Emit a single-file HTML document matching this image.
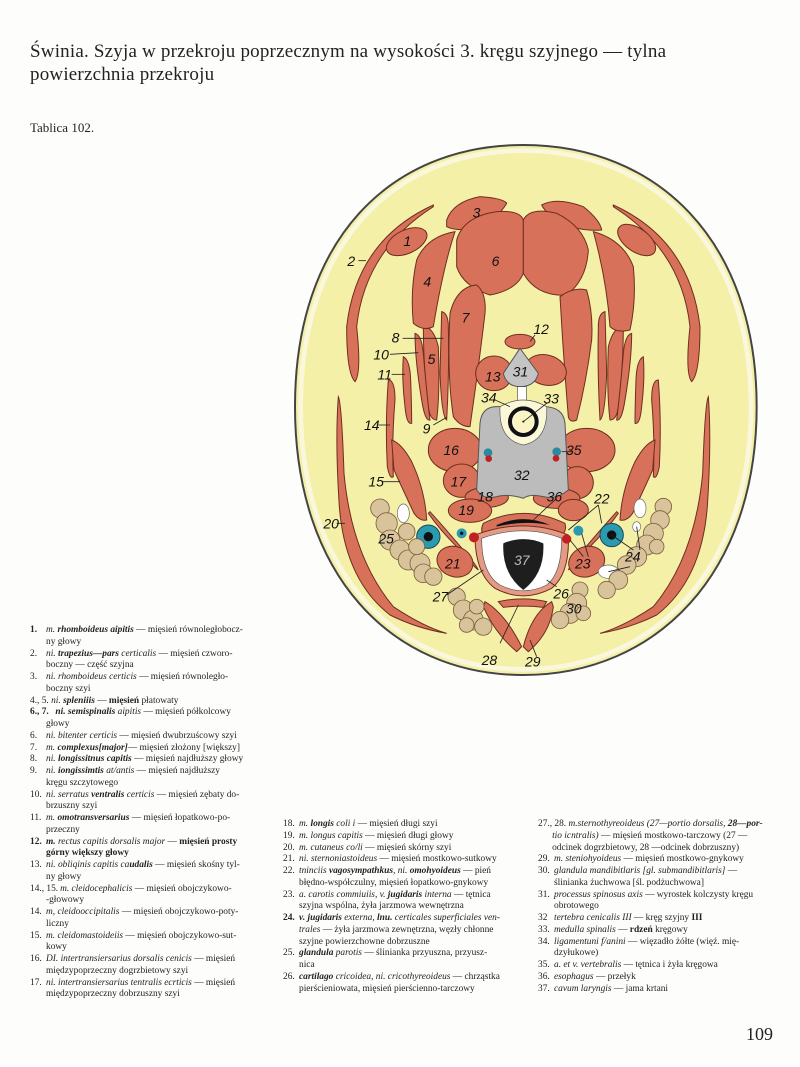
<!DOCTYPE html>
<html><head><meta charset="utf-8">
<style>
body{margin:0;background:#fff;}
#pg{position:relative;width:800px;height:1067px;overflow:hidden;background:#fdfdfb;font-family:"Liberation Serif",serif;color:#222;}
.t{position:absolute;left:30px;top:40px;font-size:19px;line-height:23px;letter-spacing:0.2px;}
.tb{position:absolute;left:30px;top:120px;font-size:13px;}
.col{position:absolute;font-size:9.4px;line-height:11.75px;}
.col .e{position:relative;padding-left:16px;}
.col .n{position:absolute;left:0;top:0;}
i{font-style:italic;}
.pn{position:absolute;left:746px;top:1024px;font-size:18px;}
</style></head><body><div id="pg">
<div class="t">Świnia. Szyja w przekroju poprzecznym na wysokości 3. kręgu szyjnego — tylna<br>powierzchnia przekroju</div>
<div class="tb">Tablica 102.</div>

<svg style="position:absolute;left:0;top:0" width="800" height="1067" viewBox="0 0 800 1067">
<g transform="translate(290,140) scale(0.33333)">
<path d="M700,15 C1100,15 1400,300 1400,800 C1400,1300 1100,1605 700,1605 C300,1605 15,1300 15,800 C15,300 300,15 700,15 Z" fill="#f5f0a8" stroke="#444" stroke-width="6"/>
<path d="M700,32 C1090,32 1383,310 1383,800 C1383,1290 1090,1588 700,1588 C310,1588 32,1290 32,800 C32,310 310,32 700,32 Z" fill="none" stroke="#faf8dc" stroke-width="14"/>
<g id="mus" fill="#d8715a" stroke="#6e2e20" stroke-width="3">
<g id="side">
<path d="M430,195 Q200,300 170,560 Q170,700 195,725 Q215,700 200,560 Q225,330 430,200Z"/>
<path d="M455,515 Q475,520 475,560 Q478,700 470,840 Q455,830 450,700Z"/>
<path d="M400,560 Q430,560 445,620 Q450,760 440,840 Q420,840 415,800 Q400,680 400,560Z"/>
<path d="M375,580 Q395,585 400,640 Q410,760 420,840 Q405,845 395,780 Q375,660 375,580Z"/>
<path d="M340,650 Q360,660 362,720 Q365,800 365,850 Q350,855 345,800 Q335,720 340,650Z"/>
<path d="M295,720 Q315,720 315,780 Q305,900 310,1010 Q300,1020 292,980 Q285,850 295,720Z"/>
<path d="M305,900 Q335,910 365,965 Q405,1050 410,1140 Q390,1145 372,1120 Q330,1030 312,990Z"/>
<path d="M145,770 Q155,790 162,1000 Q185,1250 310,1400 Q400,1460 470,1480 Q380,1465 300,1425 Q165,1320 148,1100 Q135,900 145,770Z"/>
<path d="M420,1115 Q470,1170 520,1230 Q555,1270 565,1290 Q540,1270 500,1220 Q450,1170 415,1120Z"/>
</g>
<use href="#side" transform="translate(1400,0) scale(-1,1)"/>
<ellipse cx="350" cy="305" rx="65" ry="35" transform="rotate(-25 350 305)"/>
<ellipse cx="1040" cy="300" rx="65" ry="35" transform="rotate(35 1040 300)"/>
<path d="M470,240 Q490,185 570,170 Q640,175 650,190 Q620,240 560,265 Q500,275 470,260Z"/>
<path d="M755,195 Q800,170 880,200 Q930,240 935,270 Q870,275 820,250 Q770,225 755,195Z"/>
<path d="M380,360 Q410,290 495,275 Q460,380 430,560 Q400,575 370,550 Q360,450 380,360Z"/>
<path d="M910,275 Q1000,300 1030,380 Q1040,480 1020,570 Q980,580 960,560 Q950,420 910,275Z"/>
<path d="M500,300 Q520,230 620,215 Q690,210 700,240 L700,400 Q680,450 600,465 Q520,440 500,380Z"/>
<path d="M700,240 Q720,200 800,220 Q880,260 895,330 Q890,420 830,465 Q740,470 700,400Z"/>
<path d="M480,520 Q500,440 560,435 Q590,460 585,520 Q570,650 540,860 Q510,860 490,830 Q470,700 480,520Z"/>
<path d="M810,470 Q850,440 890,450 Q910,520 905,600 Q890,720 860,840 Q840,850 835,830 Q820,650 810,470Z"/>
<ellipse cx="690" cy="605" rx="45" ry="22"/>
<ellipse cx="612" cy="700" rx="55" ry="52"/>
<ellipse cx="768" cy="690" rx="62" ry="45" transform="rotate(15 768 690)"/>
<ellipse cx="495" cy="930" rx="80" ry="65"/>
<ellipse cx="515" cy="1022" rx="55" ry="50"/>
<ellipse cx="890" cy="930" rx="85" ry="65"/>
<ellipse cx="862" cy="1028" rx="48" ry="48"/>
<ellipse cx="590" cy="1072" rx="65" ry="30"/>
<ellipse cx="800" cy="1075" rx="70" ry="30"/>
<ellipse cx="540" cy="1112" rx="65" ry="35"/>
<ellipse cx="850" cy="1110" rx="45" ry="32"/>
<ellipse cx="495" cy="1265" rx="55" ry="45" transform="rotate(20 495 1265)"/>
<ellipse cx="890" cy="1265" rx="55" ry="45" transform="rotate(-20 890 1265)"/>
<path d="M585,1385 Q645,1420 695,1520 L680,1535 Q615,1480 580,1400Z"/>
<path d="M785,1385 Q725,1420 700,1520 L715,1535 Q780,1480 790,1400Z"/>
<path d="M625,1385 Q700,1368 770,1385 L760,1402 Q700,1395 640,1402Z"/>
</g>
<path d="M690,625 L640,700 Q650,740 690,740 Q735,740 745,700Z" fill="#c4c4c4" stroke="#555" stroke-width="3"/>
<rect x="683" y="740" width="26" height="50" fill="#fff" stroke="#555" stroke-width="2"/>
<path d="M570,850 Q575,800 620,800 L650,800 Q700,830 760,800 Q820,800 825,850 L835,1050 Q800,1080 760,1070 Q720,1060 700,1075 Q650,1060 620,1070 Q580,1080 560,1050Z" fill="#bcbcbc" stroke="#555" stroke-width="3"/>
<path d="M630,800 Q700,760 770,800 Q775,900 700,915 Q625,900 630,800Z" fill="#fbf8d8" stroke="#555" stroke-width="2"/>
<circle cx="700" cy="845" r="40" fill="none" stroke="#111" stroke-width="12"/>
<circle cx="700" cy="845" r="30" fill="#fbf5c4"/>
<circle cx="700" cy="845" r="3" fill="#111"/>
<circle cx="594" cy="938" r="13" fill="#2a8aa0"/><circle cx="596" cy="956" r="10" fill="#c02020"/>
<circle cx="800" cy="935" r="13" fill="#2a8aa0"/><circle cx="798" cy="955" r="10" fill="#c02020"/>
<path d="M580,1150 Q700,1090 825,1150 Q830,1170 820,1180 Q700,1135 580,1185 Q570,1170 580,1150Z" fill="#d8715a" stroke="#6e2e20" stroke-width="3"/>
<path d="M620,1155 Q700,1120 780,1155 Q700,1140 620,1160Z" fill="#111"/>
<path d="M555,1185 Q700,1130 835,1185 Q840,1300 785,1345 Q700,1390 615,1345 Q555,1300 555,1185Z" fill="#e59a85" stroke="#6e2e20" stroke-width="3"/>
<path d="M575,1195 Q700,1150 815,1195 Q815,1300 770,1335 Q700,1370 630,1335 Q575,1300 575,1195Z" fill="#fff" stroke="#555" stroke-width="2"/>
<path d="M640,1210 Q700,1185 760,1210 Q765,1300 700,1350 Q635,1300 640,1210Z" fill="#1e1e1e"/>
<circle cx="415" cy="1190" r="35" fill="#2a9ab0" stroke="#1a4a55" stroke-width="3"/><circle cx="415" cy="1190" r="14" fill="#111"/>
<circle cx="965" cy="1185" r="35" fill="#2a9ab0" stroke="#1a4a55" stroke-width="3"/><circle cx="965" cy="1185" r="14" fill="#111"/>
<circle cx="515" cy="1180" r="15" fill="#2a9ab0"/><circle cx="515" cy="1180" r="5" fill="#111"/>
<circle cx="552" cy="1192" r="15" fill="#c02020"/>
<circle cx="865" cy="1172" r="15" fill="#2a9ab0"/><circle cx="830" cy="1197" r="14" fill="#c02020"/>
<ellipse cx="340" cy="1120" rx="18" ry="28" fill="#fff" stroke="#666" stroke-width="2"/>
<ellipse cx="1050" cy="1105" rx="18" ry="28" fill="#fff" stroke="#666" stroke-width="2"/>
<ellipse cx="1040" cy="1160" rx="12" ry="15" fill="#fff" stroke="#666" stroke-width="2"/>
<ellipse cx="955" cy="1295" rx="30" ry="20" fill="#fff" stroke="#666" stroke-width="2"/>
<g fill="#d9c39a" stroke="#7a6040" stroke-width="2.5">
<circle cx="270" cy="1105" r="28"/><circle cx="290" cy="1150" r="32"/><circle cx="300" cy="1200" r="30"/><circle cx="330" cy="1230" r="30"/><circle cx="355" cy="1260" r="30"/><circle cx="390" cy="1270" r="30"/><circle cx="400" cy="1300" r="28"/><circle cx="430" cy="1310" r="26"/><circle cx="350" cy="1175" r="25"/><circle cx="380" cy="1220" r="24"/>
<circle cx="500" cy="1370" r="26"/><circle cx="520" cy="1410" r="30"/><circle cx="550" cy="1440" r="30"/><circle cx="580" cy="1460" r="26"/><circle cx="530" cy="1455" r="22"/><circle cx="560" cy="1400" r="22"/>
<circle cx="1120" cy="1100" r="25"/><circle cx="1110" cy="1140" r="28"/><circle cx="1090" cy="1180" r="30"/><circle cx="1070" cy="1215" r="30"/><circle cx="1040" cy="1250" r="30"/><circle cx="1010" cy="1275" r="28"/><circle cx="985" cy="1320" r="28"/><circle cx="950" cy="1350" r="26"/><circle cx="1100" cy="1220" r="22"/>
<circle cx="870" cy="1350" r="24"/><circle cx="860" cy="1390" r="30"/><circle cx="840" cy="1420" r="30"/><circle cx="810" cy="1440" r="26"/><circle cx="880" cy="1420" r="22"/>
</g>
<g stroke="#222" stroke-width="2.5" fill="none">
<line x1="205" y1="362" x2="228" y2="362"/>
<line x1="338" y1="595" x2="460" y2="595"/>
<line x1="300" y1="643" x2="385" y2="638"/>
<line x1="305" y1="703" x2="345" y2="703"/>
<line x1="265" y1="855" x2="300" y2="855"/>
<line x1="275" y1="1025" x2="330" y2="1025"/>
<line x1="140" y1="1150" x2="165" y2="1150"/>
<line x1="430" y1="855" x2="470" y2="832"/>
<line x1="735" y1="585" x2="720" y2="605"/>
<line x1="615" y1="780" x2="660" y2="800"/>
<line x1="770" y1="790" x2="700" y2="845"/>
<line x1="815" y1="935" x2="850" y2="935"/>
<line x1="800" y1="1075" x2="730" y2="1140"/>
<line x1="925" y1="1095" x2="835" y2="1170"/>
<line x1="925" y1="1095" x2="935" y2="1150"/>
<line x1="875" y1="1180" x2="895" y2="1250"/>
<line x1="840" y1="1200" x2="880" y2="1250"/>
<line x1="965" y1="1185" x2="1030" y2="1230"/>
<line x1="1040" y1="1160" x2="1050" y2="1230"/>
<line x1="955" y1="1295" x2="1020" y2="1280"/>
<line x1="470" y1="1365" x2="580" y2="1290"/>
<line x1="770" y1="1320" x2="800" y2="1340"/>
<line x1="630" y1="1510" x2="685" y2="1395"/>
<line x1="720" y1="1500" x2="740" y2="1550"/>
</g>
<g font-family="Liberation Sans,sans-serif" font-style="italic" font-size="42" fill="#111">
<text x="340" y="318">1</text><text x="172" y="378">2</text><text x="548" y="232">3</text><text x="400" y="440">4</text>
<text x="413" y="672">5</text><text x="605" y="378">6</text><text x="515" y="548">7</text><text x="305" y="608">8</text>
<text x="398" y="880">9</text><text x="250" y="658">10</text><text x="262" y="718">11</text><text x="730" y="582">12</text>
<text x="585" y="725">13</text><text x="222" y="870">14</text><text x="235" y="1040">15</text><text x="460" y="945">16</text>
<text x="482" y="1040">17</text><text x="562" y="1085">18</text><text x="505" y="1125">19</text><text x="100" y="1165">20</text>
<text x="465" y="1285">21</text><text x="912" y="1090">22</text><text x="855" y="1285">23</text><text x="1005" y="1265">24</text>
<text x="265" y="1210">25</text><text x="790" y="1375">26</text><text x="428" y="1385">27</text><text x="575" y="1575">28</text>
<text x="705" y="1580">29</text><text x="828" y="1420">30</text><text x="668" y="710">31</text><text x="672" y="1020">32</text>
<text x="760" y="790">33</text><text x="573" y="788">34</text><text x="828" y="945">35</text><text x="770" y="1085">36</text>
<text x="672" y="1275" fill="#bbb">37</text>
</g>
</g>
</svg>

<div class="col" style="left:30px;top:625px;width:242px">
<div class="e"><span class="n"><b>1.</b></span><i>m. <b>rhomboideus aipitis</b></i> — mięsień równoległobocz-<br>ny głowy</div>
<div class="e"><span class="n">2.</span><i>ni. <b>trapezius—pars</b> certicalis</i> — mięsień czworo-<br>boczny — część szyjna</div>
<div class="e"><span class="n">3.</span><i>ni. rhomboideus certicis</i> — mięsień równoległo-<br>boczny szyi</div>
<div class="e" style="padding-left:0">4., 5. <i>ni. <b>spleniiis</b></i> — <b>mięsień</b> płatowaty</div>
<div class="e"><span class="n"><b>6., 7.</b></span>&nbsp;&nbsp;&nbsp;&nbsp;<i><b>ni. semispinalis</b> aipitis</i> — mięsień półkolcowy<br>głowy</div>
<div class="e"><span class="n">6.</span><i>ni. bitenter certicis</i> — mięsień dwubrzuścowy szyi</div>
<div class="e"><span class="n">7.</span><i>m. <b>complexus[major]</b></i>— mięsień złożony [większy]</div>
<div class="e"><span class="n">8.</span><i>ni. <b>longissitnus capitis</b></i> — mięsień najdłuższy głowy</div>
<div class="e"><span class="n">9.</span><i>ni. <b>iongissimtis</b> at/antis</i> — mięsień najdłuższy<br>kręgu szczytowego</div>
<div class="e"><span class="n">10.</span><i>ni. serratus <b>ventralis</b> certicis</i> — mięsień zębaty do-<br>brzuszny szyi</div>
<div class="e"><span class="n">11.</span><i>m. <b>omotransversarius</b></i> — mięsień łopatkowo-po-<br>przeczny</div>
<div class="e"><span class="n"><b>12.</b></span><i><b>m.</b> rectus capitis dorsalis major</i> — <b>mięsień prosty<br>górny większy głowy</b></div>
<div class="e"><span class="n">13.</span><i>ni. obliqinis capitis ca<b>udalis</b></i> — mięsień skośny tyl-<br>ny głowy</div>
<div class="e"><span class="n">14., 15.</span>&nbsp;&nbsp;&nbsp;&nbsp;&nbsp;&nbsp;<i>m. cleidocephalicis</i> — mięsień obojczykowo-<br>-głowowy</div>
<div class="e"><span class="n">14.</span><i>m, cleidooccipitalis</i> — mięsień obojczykowo-poty-<br>liczny</div>
<div class="e"><span class="n">15.</span><i>m. cleidomastoideiis</i> — mięsień obojczykowo-sut-<br>kowy</div>
<div class="e"><span class="n">16.</span><i>DI. intertransiersarius dorsalis cenicis</i> — mięsień<br>międzypoprzeczny dogrzbietowy szyi</div>
<div class="e"><span class="n">17.</span><i>ni. intertransiersarius tentralis ecrticis</i> — mięsień<br>międzypoprzeczny dobrzuszny szyi</div>
</div>

<div class="col" style="left:283px;top:819px;width:252px">
<div class="e"><span class="n">18.</span><i>m. <b>longis</b> coli i</i> — mięsień długi szyi</div>
<div class="e"><span class="n">19.</span><i>m. longus capitis</i> — mięsień długi głowy</div>
<div class="e"><span class="n">20.</span><i>m. cutaneus co/li</i> — mięsień skórny szyi</div>
<div class="e"><span class="n">21.</span><i>ni. sternoniastoideus</i> — mięsień mostkowo-sutkowy</div>
<div class="e"><span class="n">22.</span><i>tninciis <b>vagosympathkus</b>, ni. <b>omohyoideus</b></i> — pień<br>błędno-współczulny, mięsień łopatkowo-gnykowy</div>
<div class="e"><span class="n">23.</span><i>a. carotis commiuiis, v. <b>jugidaris</b> interna</i> — tętnica<br>szyjna wspólna, żyła jarzmowa wewnętrzna</div>
<div class="e"><span class="n"><b>24.</b></span><i><b>v. jugidaris</b> externa, <b>lnu.</b> certicales superficiales ven-<br>trales</i> — żyła jarzmowa zewnętrzna, węzły chłonne<br>szyjne powierzchowne dobrzuszne</div>
<div class="e"><span class="n">25.</span><i><b>glandula</b> parotis</i> — ślinianka przyuszna, przyusz-<br>nica</div>
<div class="e"><span class="n">26.</span><i><b>cartilago</b> cricoidea, ni. cricothyreoideus</i> — chrząstka<br>pierścieniowata, mięsień pierścienno-tarczowy</div>
</div>

<div class="col" style="left:538px;top:819px;width:260px">
<div class="e" style="padding-left:0">27., 28. <i>m.sternothyreoideus (27—portio dorsalis, <b>28—por-</b></i><br>&nbsp;&nbsp;&nbsp;&nbsp;&nbsp;&nbsp;<i>tio icntralis)</i> — mięsień mostkowo-tarczowy (27 —<br>&nbsp;&nbsp;&nbsp;&nbsp;&nbsp;&nbsp;odcinek dogrzbietowy, 28 —odcinek dobrzuszny)</div>
<div class="e"><span class="n">29.</span><i>m. steniohyoideus</i> — mięsień mostkowo-gnykowy</div>
<div class="e"><span class="n">30.</span><i>glandula mandibitlaris [gl. submandibitlaris]</i> —<br>ślinianka żuchwowa [śl. podżuchwowa]</div>
<div class="e"><span class="n">31.</span><i>processus spinosus axis</i> — wyrostek kolczysty kręgu<br>obrotowego</div>
<div class="e"><span class="n">32</span><i>tertebra cenicalis III</i> — kręg szyjny <b>III</b></div>
<div class="e"><span class="n">33.</span><i>medulla spinalis</i> — <b>rdzeń</b> kręgowy</div>
<div class="e"><span class="n">34.</span><i>ligamentuni f/anini</i> — więzadło żółte (więź. mię-<br>dzyłukowe)</div>
<div class="e"><span class="n">35.</span><i>a. et v. vertebralis</i> — tętnica i żyła kręgowa</div>
<div class="e"><span class="n">36.</span><i>esophagus</i> — przełyk</div>
<div class="e"><span class="n">37.</span><i>cavum laryngis</i> — jama krtani</div>
</div>

<div class="pn">109</div>
</div></body></html>
